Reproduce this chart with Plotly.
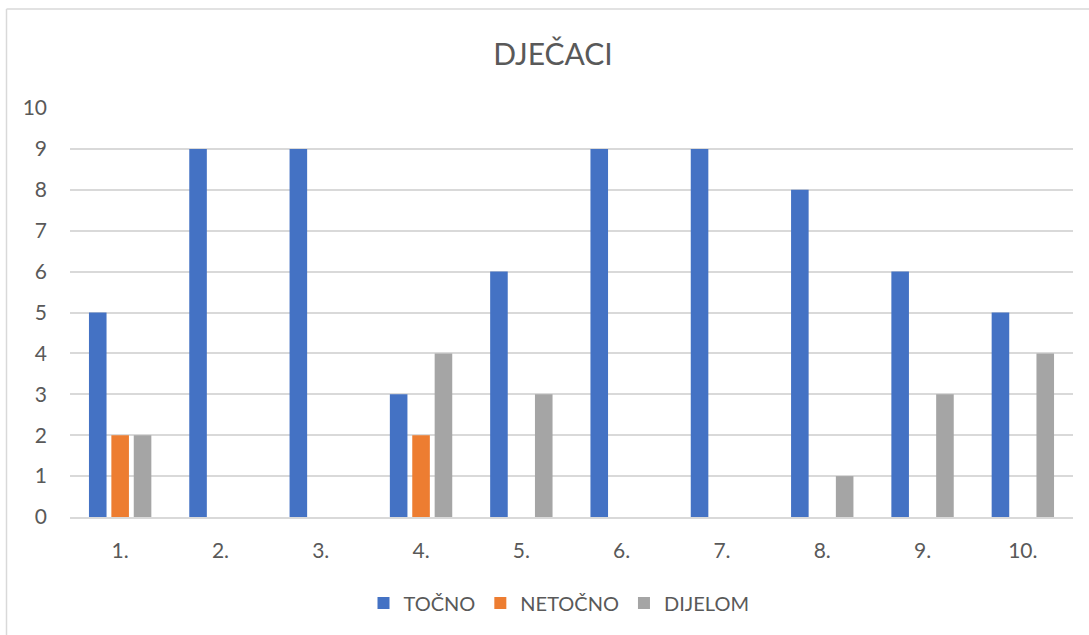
import plotly.graph_objects as go

categories = ["1.", "2.", "3.", "4.", "5.", "6.", "7.", "8.", "9.", "10."]
tocno = [5, 9, 9, 3, 6, 9, 9, 8, 6, 5]
netocno = [2, 0, 0, 2, 0, 0, 0, 0, 0, 0]
dijelom = [2, 0, 0, 4, 3, 0, 0, 1, 3, 4]

FONT = "Lato, 'Open Sans', sans-serif"
TXT = "#595959"

fig = go.Figure()
fig.add_bar(x=categories, y=tocno, name="TOČNO", marker=dict(color="#4472C4", line=dict(width=0)))
fig.add_bar(x=categories, y=netocno, name="NETOČNO", marker=dict(color="#ED7D31", line=dict(width=0)))
fig.add_bar(x=categories, y=dijelom, name="DIJELOM", marker=dict(color="#A5A5A5", line=dict(width=0)))

fig.update_layout(
    width=1089, height=635,
    margin=dict(l=70, r=16, t=108, b=118),
    paper_bgcolor="white", plot_bgcolor="white",
    barmode="group", bargap=0.33, bargroupgap=0.215,
    font=dict(family=FONT, color=TXT, size=20),
    title=dict(text="DJEČACI", x=553 / 1089, xanchor="center", y=1 - 54 / 635, yanchor="middle",
               font=dict(family=FONT, size=30, color=TXT)),
    showlegend=True,
    legend=dict(orientation="h", x=(559 - 70) / (1073 - 70), xanchor="center",
                y=-(603 - 517) / (517 - 108), yanchor="middle",
                font=dict(family=FONT, size=20, color=TXT), itemwidth=30, traceorder="normal"),
    hovermode=False,
    shapes=[
        dict(type="line", xref="paper", yref="paper",
             x0=(6.5 - 70) / (1073 - 70), x1=(1095 - 70) / (1073 - 70),
             y0=(517 - 9) / (517 - 108), y1=(517 - 9) / (517 - 108),
             line=dict(color="#D9D9D9", width=1.5)),
        dict(type="line", xref="paper", yref="paper",
             x0=(6.5 - 70) / (1073 - 70), x1=(6.5 - 70) / (1073 - 70),
             y0=(517 - 9) / (517 - 108), y1=-(640 - 517) / (517 - 108),
             line=dict(color="#D9D9D9", width=1.5)),
    ],
)
fig.update_xaxes(showgrid=False, showline=True, linecolor="#D9D9D9", linewidth=1.5,
                 ticks="", tickfont=dict(family=FONT, size=21, color=TXT), ticklabelstandoff=14)
fig.update_yaxes(range=[0, 10], dtick=1, showgrid=True, gridcolor="#D9D9D9", gridwidth=1.5,
                 zeroline=False, showline=False, ticks="",
                 tickfont=dict(family=FONT, size=21, color=TXT), ticklabelstandoff=22)

fig.write_html("out.html")
